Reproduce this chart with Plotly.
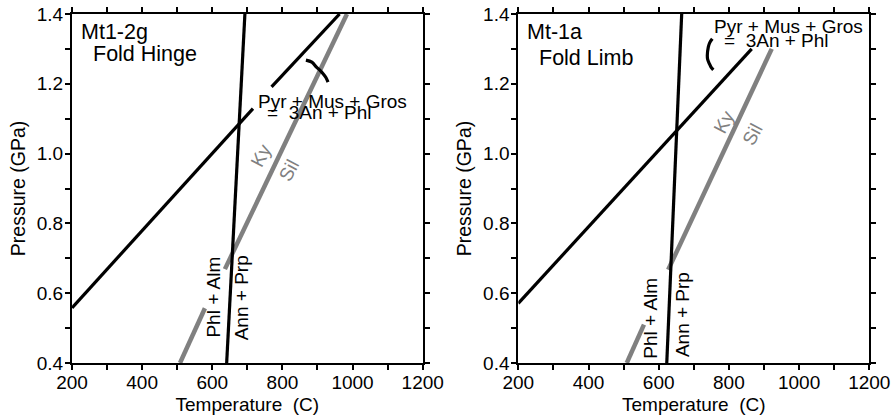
import plotly.graph_objects as go

# ---------------- data ----------------
# Left panel: Mt1-2g Fold Hinge
L_bio_T = [641, 693]            # Phl + Alm = Ann + Prp
L_bio_P = [0.40, 1.40]
L_pyr_T = [200, 716, None, 769, 963]   # Pyr + Mus + Gros = 3An + Phl
L_pyr_P = [0.558, 1.129, None, 1.191, 1.40]
L_kysil_T = [508, 579, None, 636, 984]   # Ky = Sil
L_kysil_P = [0.40, 0.557, None, 0.669, 1.40]
L_arc_T = [867, 884, 897, 908, 916, 924, 930]
L_arc_P = [1.268, 1.262, 1.248, 1.238, 1.229, 1.218, 1.205]

# Right panel: Mt-1a Fold Limb
R_bio_T = [623, 665.5]
R_bio_P = [0.40, 1.40]
R_pyr_T = [200, 865]
R_pyr_P = [0.571, 1.30]
R_kysil_T = [509, 558, None, 627, 922]
R_kysil_P = [0.40, 0.51, None, 0.667, 1.30]
R_arc_T = [752.7, 745.5, 741.3, 738.5, 739.5, 744.2, 749.0, 755.6]
R_arc_P = [1.329, 1.318, 1.305, 1.281, 1.270, 1.258, 1.248, 1.240]

x_range = [200, 1200]
y_range = [0.4, 1.4]
x_ticks = [200, 400, 600, 800, 1000, 1200]
y_ticks = [0.4, 0.6, 0.8, 1.0, 1.2, 1.4]

FONT = "Liberation Sans, Arial, Helvetica, sans-serif"
GRAY = "#808080"

fig = go.Figure()

def add_panel(xa, ya, bio_T, bio_P, pyr_T, pyr_P, ks_T, ks_P, arc_T, arc_P):
    fig.add_trace(go.Scatter(x=ks_T, y=ks_P, mode="lines", xaxis=xa, yaxis=ya,
                             line=dict(color=GRAY, width=4.5), showlegend=False,
                             hoverinfo="skip"))
    fig.add_trace(go.Scatter(x=pyr_T, y=pyr_P, mode="lines", xaxis=xa, yaxis=ya,
                             line=dict(color="black", width=3.2), showlegend=False,
                             hoverinfo="skip"))
    fig.add_trace(go.Scatter(x=bio_T, y=bio_P, mode="lines", xaxis=xa, yaxis=ya,
                             line=dict(color="black", width=3.2), showlegend=False,
                             hoverinfo="skip"))
    fig.add_trace(go.Scatter(x=arc_T, y=arc_P, mode="lines", xaxis=xa, yaxis=ya,
                             line=dict(color="black", width=3.2, shape="spline"),
                             showlegend=False, hoverinfo="skip"))

add_panel("x", "y", L_bio_T, L_bio_P, L_pyr_T, L_pyr_P, L_kysil_T, L_kysil_P, L_arc_T, L_arc_P)
add_panel("x2", "y2", R_bio_T, R_bio_P, R_pyr_T, R_pyr_P, R_kysil_T, R_kysil_P, R_arc_T, R_arc_P)

def xaxis_def(domain, anchor):
    return dict(domain=domain, anchor=anchor, range=x_range, tickvals=x_ticks,
                automargin=False, ticklabelstandoff=-4,
                ticks="outside", ticklen=5, tickwidth=2, tickcolor="black",
                showline=True, linecolor="black", linewidth=2, mirror="ticks",
                showgrid=False, zeroline=False,
                minor=dict(dtick=100, ticks="outside", ticklen=5, tickwidth=2,
                           tickcolor="black", showgrid=False),
                tickfont=dict(size=19, color="black", family=FONT),
                title=dict(text="Temperature  (C)", standoff=6,
                           font=dict(size=19, color="black", family=FONT)))

def yaxis_def(anchor):
    return dict(domain=[0, 1], anchor=anchor, range=y_range, tickvals=y_ticks,
                tickformat=".1f", automargin=False, ticklabelstandoff=-2,
                ticks="outside", ticklen=5, tickwidth=2, tickcolor="black",
                showline=True, linecolor="black", linewidth=2, mirror="ticks",
                showgrid=False, zeroline=False,
                minor=dict(dtick=0.1, ticks="outside", ticklen=5, tickwidth=2,
                           tickcolor="black", showgrid=False),
                tickfont=dict(size=19, color="black", family=FONT),
                title=dict(text="Pressure (GPa)", standoff=6,
                           font=dict(size=19.5, color="black", family=FONT)))

fig.update_layout(
    width=894, height=415,
    margin=dict(l=0, r=0, t=14, b=52, autoexpand=False),
    paper_bgcolor="white", plot_bgcolor="white",
    xaxis=xaxis_def([72 / 894, 422.7 / 894], "y"),
    yaxis=yaxis_def("x"),
    xaxis2=xaxis_def([518.3 / 894, 869.3 / 894], "y2"),
    yaxis2=yaxis_def("x2"),
    font=dict(family=FONT, color="black"),
)

def ann(text, x, y, xa, ya, xanchor="left", angle=0, color="black", size=19):
    fig.add_annotation(text=text, x=x, y=y, xref=xa, yref=ya, showarrow=False,
                       xanchor=xanchor, yanchor="middle", textangle=angle,
                       font=dict(size=size, color=color, family=FONT))

# left panel labels
ann("Mt1-2g", 219, 1.348, "x", "y", size=21.5)
ann("Fold Hinge", 255, 1.285, "x", "y", size=21.5)
ann("Pyr + Mus + Gros", 724, 1.150, "x", "y")
ann("=  3An + Phl", 750, 1.117, "x", "y")
ann("Phl + Alm", 602.6, 0.588, "x", "y", xanchor="center", angle=-90)
ann("Ann + Prp", 683.5, 0.587, "x", "y", xanchor="center", angle=-90)
ann("Ky", 739, 0.994, "x", "y", xanchor="center", angle=-62, color=GRAY)
ann("Sil", 818, 0.953, "x", "y", xanchor="center", angle=-62, color=GRAY)

# right panel labels
ann("Mt-1a", 219, 1.349, "x2", "y2", size=21.5)
ann("Fold Limb", 253, 1.275, "x2", "y2", size=21.5)
ann("Pyr + Mus + Gros", 752.7, 1.364, "x2", "y2")
ann("=  3An + Phl", 779.5, 1.324, "x2", "y2")
ann("Phl + Alm", 577.2, 0.529, "x2", "y2", xanchor="center", angle=-90)
ann("Ann + Prp", 670, 0.538, "x2", "y2", xanchor="center", angle=-90)
ann("Ky", 786, 1.093, "x2", "y2", xanchor="center", angle=-62, color=GRAY)
ann("Sil", 867, 1.055, "x2", "y2", xanchor="center", angle=-62, color=GRAY)

fig.write_html("out.html")
